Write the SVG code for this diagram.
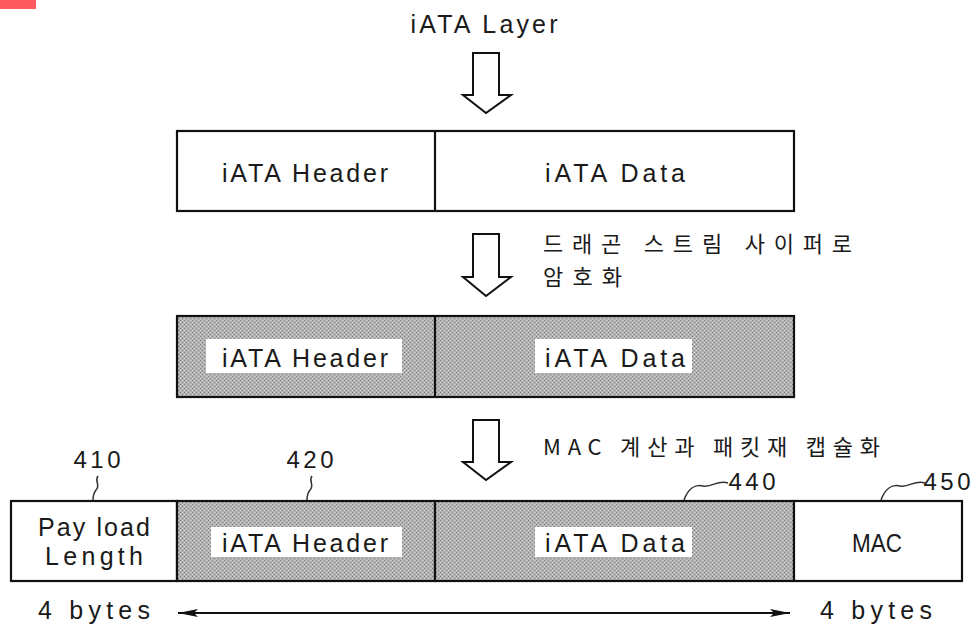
<svg xmlns="http://www.w3.org/2000/svg" width="973" height="624" viewBox="0 0 973 624">
<style>
.t{font-family:"Liberation Sans","DejaVu Sans",sans-serif;font-size:25px;fill:#1a1a1a;text-anchor:middle}
.n{font-family:"Liberation Sans","DejaVu Sans",sans-serif;font-size:24px;fill:#1a1a1a;text-anchor:middle}
.k{font-family:"Noto Sans CJK KR","Liberation Sans",sans-serif;font-size:22px;fill:#1a1a1a}
.box{fill:#fff;stroke:#111;stroke-width:2.2}
.hat{fill:url(#dots);stroke:#111;stroke-width:2.2}
.lbl{fill:#fff;stroke:none}
.arr{fill:#fff;stroke:#111;stroke-width:2;stroke-linejoin:miter}
.lead{fill:none;stroke:#333;stroke-width:1.5}
.conn{fill:none;stroke:#111;stroke-width:2}
</style>
<defs>
<pattern id="dots" width="4" height="4" patternUnits="userSpaceOnUse">
<rect width="4" height="4" fill="#b4b4b4"/>
<rect x="0" y="0" width="1" height="1" fill="#7a7a7a"/>
<rect x="2" y="2" width="1" height="1" fill="#7a7a7a"/>
<rect x="2" y="0" width="1" height="1" fill="#d0d0d0"/>
<rect x="0" y="2" width="1" height="1" fill="#d0d0d0"/>
</pattern>
<marker id="ah" viewBox="0 0 20 10" refX="20" refY="5" markerWidth="20" markerHeight="10" markerUnits="userSpaceOnUse" orient="auto-start-reverse">
<path d="M0,1 L20,5 L0,9 L4,5 Z" fill="#111"/>
</marker>
</defs>
<rect x="0" y="0" width="36" height="9" fill="#ff5a5f"/>

<g id="layer-title">
<text class="t" x="484" y="33" textLength="147" lengthAdjust="spacing">iATA Layer</text>
</g>

<g id="arrow1"><polygon class="arr" points="473,53 499,53 499,95 511,95 486,113 463,95 473,95"/></g>

<g id="frame1">
<rect class="box" x="177" y="131" width="617" height="80"/>
<line x1="435" y1="131" x2="435" y2="211" stroke="#111" stroke-width="2.2"/>
<text class="t" x="305" y="182" textLength="166" lengthAdjust="spacing">iATA Header</text>
<text class="t" x="615" y="182" textLength="140" lengthAdjust="spacing">iATA Data</text>
</g>

<g id="arrow2"><polygon class="arr" points="473,234 499,234 499,277 511,277 486,296 463,277 473,277"/></g>
<g id="label-encrypt">
<text class="k" x="543" y="252" textLength="309" lengthAdjust="spacing">드래곤 스트림 사이퍼로</text>
<text class="k" x="543" y="285" textLength="79" lengthAdjust="spacing">암호화</text>
</g>

<g id="frame2">
<rect class="hat" x="177" y="316" width="617" height="81"/>
<line x1="435" y1="316" x2="435" y2="397" stroke="#111" stroke-width="2.2"/>
<rect class="lbl" x="206" y="339" width="196" height="34"/>
<rect class="lbl" x="535" y="339" width="157" height="34"/>
<text class="t" x="305" y="367" textLength="166" lengthAdjust="spacing">iATA Header</text>
<text class="t" x="615" y="367" textLength="140" lengthAdjust="spacing">iATA Data</text>
</g>

<g id="arrow3"><polygon class="arr" points="473,420 499,420 499,462 511,462 486,480 463,462 473,462"/></g>
<g id="label-mac">
<text class="k" x="543" y="455" textLength="337" lengthAdjust="spacing">MAC 계산과 패킷재 캡슐화</text>
</g>

<g id="field-410">
<rect class="box" x="11" y="501" width="166" height="80"/>
<text class="t" x="94" y="536" textLength="112" lengthAdjust="spacing">Pay load</text>
<text class="t" x="94" y="565" textLength="98" lengthAdjust="spacing">Length</text>
<text class="n" x="97" y="468" textLength="47" lengthAdjust="spacing">410</text>
</g>
<g id="field-420">
<rect class="hat" x="177" y="501" width="258" height="80"/>
<rect class="lbl" x="211" y="527" width="191" height="30"/>
<text class="t" x="305" y="552" textLength="166" lengthAdjust="spacing">iATA Header</text>
<text class="n" x="310" y="468" textLength="47" lengthAdjust="spacing">420</text>
</g>
<g id="field-440">
<rect class="hat" x="435" y="501" width="359" height="80"/>
<rect class="lbl" x="535" y="527" width="157" height="30"/>
<text class="t" x="615" y="552" textLength="140" lengthAdjust="spacing">iATA Data</text>
<text class="n" x="752" y="490" textLength="47" lengthAdjust="spacing">440</text>
</g>
<g id="field-450">
<rect class="box" x="794" y="501" width="168" height="80"/>
<text class="t" x="877" y="552" textLength="50" lengthAdjust="spacingAndGlyphs">MAC</text>
<text class="n" x="947" y="490" textLength="47" lengthAdjust="spacing">450</text>
</g>

<g id="bytes">
<text class="t" x="94" y="619" textLength="112" lengthAdjust="spacing">4 bytes</text>
<text class="t" x="876" y="619" textLength="112" lengthAdjust="spacing">4 bytes</text>
</g>

<g id="connectors">
<path class="lead" d="M98,476 C94,481 101,485 96,490 C93,494 93,497 93,500"/>
<path class="lead" d="M312,476 C308,481 315,485 310,490 C307,494 307,497 307,500"/>
<path class="lead" d="M728,483 C718,479 712,488 703,486 C695,484 688,489 684,500"/>
<path class="lead" d="M925,483 C915,479 909,488 900,486 C892,484 885,489 881,500"/>
<line class="conn" x1="178" y1="613" x2="790" y2="613" marker-start="url(#ah)" marker-end="url(#ah)"/>
</g>
</svg>
